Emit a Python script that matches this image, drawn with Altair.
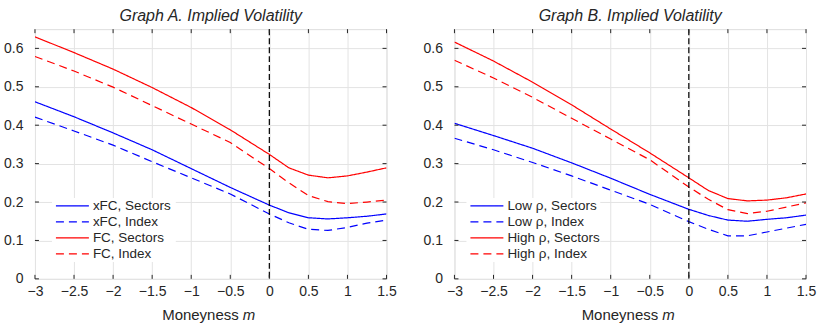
import altair as alt
import pandas as pd

# Moneyness grid
m = [-3, -2.5, -2, -1.5, -1, -0.5, 0, 0.25, 0.5, 0.75, 1, 1.25, 1.5]

# Graph A
a_xfc_sectors = [0.461, 0.422, 0.380, 0.336, 0.287, 0.238, 0.192, 0.172, 0.159, 0.156, 0.159, 0.163, 0.169]
a_xfc_index = [0.421, 0.385, 0.348, 0.305, 0.263, 0.221, 0.169, 0.146, 0.129, 0.126, 0.134, 0.145, 0.153]
a_fc_sectors = [0.630, 0.589, 0.546, 0.498, 0.446, 0.388, 0.324, 0.289, 0.270, 0.263, 0.268, 0.278, 0.289]
a_fc_index = [0.579, 0.541, 0.499, 0.451, 0.403, 0.355, 0.287, 0.250, 0.217, 0.201, 0.196, 0.200, 0.205]

# Graph B
b_low_sectors = [0.405, 0.373, 0.340, 0.302, 0.262, 0.220, 0.181, 0.165, 0.153, 0.150, 0.155, 0.159, 0.166]
b_low_index = [0.366, 0.336, 0.303, 0.268, 0.231, 0.194, 0.149, 0.129, 0.112, 0.112, 0.122, 0.132, 0.142]
b_high_sectors = [0.6165, 0.567, 0.512, 0.453, 0.390, 0.328, 0.263, 0.230, 0.209, 0.203, 0.205, 0.211, 0.221]
b_high_index = [0.569, 0.523, 0.4725, 0.418, 0.364, 0.310, 0.239, 0.207, 0.180, 0.170, 0.176, 0.187, 0.198]

labels_a = ["xFC, Sectors", "xFC, Index", "FC, Sectors", "FC, Index"]
labels_b = ["Low ρ, Sectors", "Low ρ, Index", "High ρ, Sectors", "High ρ, Index"]
titles = ["Graph A. Implied Volatility", "Graph B. Implied Volatility"]

x_ticks = [-3, -2.5, -2, -1.5, -1, -0.5, 0, 0.5, 1, 1.5]
y_ticks = [0, 0.1, 0.2, 0.3, 0.4, 0.5, 0.6]

FONT = "Liberation Sans"
W, H = 352, 250
DARK = "#262626"
COLORS = ["#0000ff", "#0000ff", "#ff0000", "#ff0000"]
DASHES = [[1, 0], [8, 5], [1, 0], [8, 5]]

xs = alt.Scale(domain=[-3, 1.5], nice=False, zero=False)
ys = alt.Scale(domain=[0, 0.65], nice=False)

X_AXIS = alt.Axis(values=x_ticks, format="~g", title=None, ticks=False,
                  domain=False, labelFlush=False, labelOverlap=False,
                  labelPadding=6, labelFont=FONT, labelFontSize=14,
                  labelColor=DARK, gridColor="#e3e3e3")
Y_AXIS = alt.Axis(values=y_ticks, format="~g", title=None, ticks=False,
                  domain=False, labelOverlap=False, labelPadding=12,
                  labelFont=FONT, labelFontSize=14, labelColor=DARK,
                  gridColor="#e3e3e3")


def X(field):
    return alt.X(field, scale=xs, axis=X_AXIS)


def Y(field):
    return alt.Y(field, scale=ys, axis=Y_AXIS)


def panel(title, labels, series, sym_x, box_w):
    rows = []
    for lab, vals in zip(labels, series):
        for mi, v in zip(m, vals):
            rows.append({"m": mi, "iv": v, "series": lab})
    df = pd.DataFrame(rows)

    lines = alt.Chart(df).mark_line(strokeWidth=1.2, clip=True).encode(
        x=X("m:Q"),
        y=Y("iv:Q"),
        color=alt.Color("series:N", scale=alt.Scale(domain=labels, range=COLORS), legend=None),
        strokeDash=alt.StrokeDash("series:N", scale=alt.Scale(domain=labels, range=DASHES), legend=None),
    )

    zero = alt.Chart(pd.DataFrame({"m": [0]})).mark_rule(
        color="black", strokeDash=[6, 3], strokeWidth=1.2
    ).encode(x=X("m:Q"))

    xt = pd.DataFrame({"m": x_ticks})
    yt = pd.DataFrame({"iv": y_ticks})
    tick_top = alt.Chart(xt).mark_rule(color=DARK, strokeWidth=1).encode(
        x=X("m:Q"), y=alt.value(0), y2=alt.value(4))
    tick_bot = alt.Chart(xt).mark_rule(color=DARK, strokeWidth=1).encode(
        x=X("m:Q"), y=alt.value(H - 4), y2=alt.value(H))
    tick_left = alt.Chart(yt).mark_rule(color=DARK, strokeWidth=1).encode(
        y=Y("iv:Q"), x=alt.value(0), x2=alt.value(4))
    tick_right = alt.Chart(yt).mark_rule(color=DARK, strokeWidth=1).encode(
        y=Y("iv:Q"), x=alt.value(W - 4), x2=alt.value(W))

    t1 = alt.Chart(pd.DataFrame({"t": ["Moneyness"]})).mark_text(
        align="right", baseline="alphabetic", font=FONT, fontSize=15, color=DARK
    ).encode(text="t:N", x=alt.value(W / 2 + 28), y=alt.value(H + 41))
    t2 = alt.Chart(pd.DataFrame({"t": ["m"]})).mark_text(
        align="left", baseline="alphabetic", font=FONT, fontSize=15,
        fontStyle="italic", color=DARK
    ).encode(text="t:N", x=alt.value(W / 2 + 32), y=alt.value(H + 41))

    # legend (drawn by hand so that its rows are tight like the original)
    box = alt.Chart(pd.DataFrame({"k": [0]})).mark_rect(color="white").encode(
        x=alt.value(sym_x - 4), x2=alt.value(sym_x - 4 + box_w),
        y=alt.value(169), y2=alt.value(233))
    leg_layers = [box]
    for i, lab in enumerate(labels):
        ry = 177 + 16 * i
        d = pd.DataFrame({"label": [lab]})
        leg_layers.append(alt.Chart(d).mark_rule(
            color=COLORS[i], strokeDash=DASHES[i], strokeWidth=1.3
        ).encode(x=alt.value(sym_x), x2=alt.value(sym_x + 33), y=alt.value(ry)))
        leg_layers.append(alt.Chart(d).mark_text(
            align="left", baseline="middle", font=FONT, fontSize=13.5, color=DARK
        ).encode(text="label:N", x=alt.value(sym_x + 37), y=alt.value(ry)))

    return alt.layer(lines, zero, tick_top, tick_bot, tick_left, tick_right,
                     t1, t2, *leg_layers).properties(
        width=W, height=H,
        title=alt.TitleParams(title, font=FONT, fontSize=16, fontStyle="italic",
                              fontWeight="normal", color=DARK, offset=5),
    )


left = panel(titles[0], labels_a, [a_xfc_sectors, a_xfc_index, a_fc_sectors, a_fc_index], 21, 124)
right = panel(titles[1], labels_b, [b_low_sectors, b_low_index, b_high_sectors, b_high_index], 16, 134)

chart = alt.hconcat(left, right, spacing=25).resolve_scale(
    color="independent", strokeDash="independent"
).properties(
    padding={"left": 3, "top": 6, "right": 0, "bottom": 0}
).configure_view(stroke=DARK, strokeWidth=1).configure(background="white")

chart.save("out.html", embed_options={"renderer": "svg", "actions": False})
